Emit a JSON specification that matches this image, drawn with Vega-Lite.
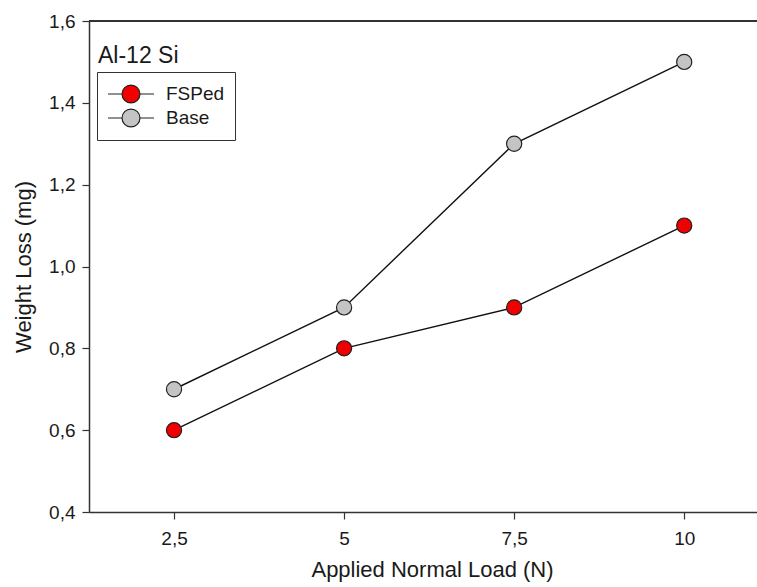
{
  "$schema": "https://vega.github.io/schema/vega-lite/v6.json",
  "width": 668,
  "height": 491,
  "autosize": "none",
  "padding": {"left": 89, "top": 21, "right": 0, "bottom": 75},
  "background": "white",
  "config": {
    "locale": {"number": {"decimal": ",", "thousands": ".", "grouping": [3], "currency": ["", " €"]}},
    "view": {"stroke": null},
    "font": "Liberation Sans",
    "axis": {
      "grid": false,
      "domainColor": "#333333",
      "domainWidth": 1.5,
      "tickColor": "#333333",
      "tickWidth": 1.2,
      "tickSize": 7,
      "labelFont": "Liberation Sans",
      "labelFontSize": 19,
      "labelColor": "#1a1a1a",
      "titleFont": "Liberation Sans",
      "titleFontSize": 22,
      "titleFontWeight": "normal",
      "titleColor": "#1a1a1a"
    }
  },
  "data": {
    "values": [
      {"load": 2.5, "loss": 0.6, "series": "FSPed"},
      {"load": 5, "loss": 0.8, "series": "FSPed"},
      {"load": 7.5, "loss": 0.9, "series": "FSPed"},
      {"load": 10, "loss": 1.1, "series": "FSPed"},
      {"load": 2.5, "loss": 0.7, "series": "Base"},
      {"load": 5, "loss": 0.9, "series": "Base"},
      {"load": 7.5, "loss": 1.3, "series": "Base"},
      {"load": 10, "loss": 1.5, "series": "Base"}
    ]
  },
  "encoding": {
    "x": {
      "field": "load",
      "type": "quantitative",
      "scale": {"domain": [1.25, 11.07], "nice": false, "zero": false},
      "axis": {"values": [2.5, 5, 7.5, 10], "format": ".1~f", "title": "Applied Normal Load (N)", "labelPadding": 10, "titlePadding": 11, "titleX": 343}
    },
    "y": {
      "field": "loss",
      "type": "quantitative",
      "scale": {"domain": [0.4, 1.6], "nice": false, "zero": false},
      "axis": {"values": [0.4, 0.6, 0.8, 1.0, 1.2, 1.4, 1.6], "format": ".1f", "title": "Weight Loss (mg)", "labelPadding": 7, "titlePadding": 13}
    }
  },
  "layer": [
    {
      "mark": {"type": "rule", "color": "#333333", "strokeWidth": 1.5},
      "encoding": {"y": {"datum": 1.6}, "x": null}
    },
    {
      "mark": {"type": "line", "color": "#111111", "strokeWidth": 1.4},
      "encoding": {"detail": {"field": "series"}}
    },
    {
      "mark": {"type": "point", "filled": true, "size": 230, "opacity": 1, "stroke": "#222222", "strokeWidth": 1.2, "shape": "circle"},
      "encoding": {
        "fill": {
          "field": "series",
          "type": "nominal",
          "scale": {"domain": ["FSPed", "Base"], "range": ["#f00000", "#c4c4c4"]},
          "legend": {
            "title": null,
            "orient": "none",
            "legendX": 8,
            "legendY": 51,
            "strokeColor": "#333333",
            "padding": 10,
            "symbolType": "M-1,0L-0.39,0M0.39,0L1,0M-0.39,0A0.39,0.39,0,1,0,0.39,0A0.39,0.39,0,1,0,-0.39,0Z",
            "symbolSize": 2116,
            "symbolStrokeColor": "#222222",
            "symbolStrokeWidth": 1.2,
            "symbolOpacity": 1,
            "clipHeight": 24,
            "rowPadding": 0,
            "labelOffset": 11,
            "labelFont": "Liberation Sans",
            "labelFontSize": 19,
            "labelColor": "#1a1a1a"
          }
        }
      }
    },
    {
      "data": {"values": [{"label": "Al-12 Si", "lx": 1.382, "ly": 1.497}]},
      "mark": {"type": "text", "align": "left", "baseline": "alphabetic", "fontSize": 23, "font": "Liberation Sans", "color": "#1a1a1a"},
      "encoding": {
        "x": {"field": "lx", "type": "quantitative"},
        "y": {"field": "ly", "type": "quantitative"},
        "text": {"field": "label"}
      }
    }
  ]
}
